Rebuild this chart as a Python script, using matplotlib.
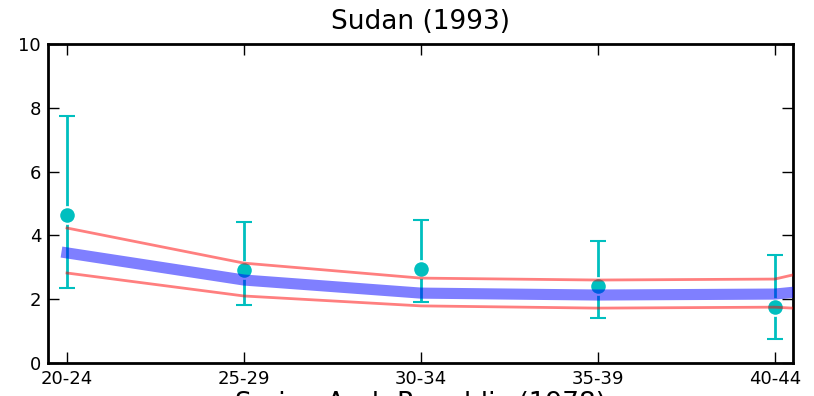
import matplotlib
matplotlib.use("Agg")
import matplotlib.pyplot as plt

# age groups (x categories)
ages = ["20-24", "25-29", "30-34", "35-39", "40-44", "45-49"]

# observed points with error bars
obs = [4.64, 2.92, 2.95, 2.41, 1.76]
obs_hi = [7.74, 4.42, 4.48, 3.82, 3.39]
obs_lo = [2.35, 1.82, 1.91, 1.41, 0.75]

# model fit and band (last value runs off the right edge)
fit = [3.45, 2.60, 2.19, 2.13, 2.16, 2.70]
band_hi = [4.23, 3.13, 2.66, 2.60, 2.63, 3.90]
band_lo = [2.82, 2.10, 1.79, 1.72, 1.75, 1.45]

fig = plt.figure(figsize=(8.14, 3.96), dpi=100)
ax = fig.add_axes([0.059, 0.0833, 0.915, 0.806])

x = list(range(len(ages)))
xo = x[:len(obs)]

ax.errorbar(xo, obs,
            yerr=[[o - l for o, l in zip(obs, obs_lo)], [h - o for o, h in zip(obs, obs_hi)]],
            fmt='o', color='c', ecolor='c', mec='w', mew=1.5, ms=12,
            elinewidth=2, capsize=6, capthick=1.5, zorder=2)
ax.plot(x, fit, color='b', alpha=0.5, lw=8, zorder=3)
ax.plot(x, band_hi, color='r', alpha=0.5, lw=2, zorder=3)
ax.plot(x, band_lo, color='r', alpha=0.5, lw=2, zorder=3)

ax.set_xlim(-0.107, 4.102)
ax.set_ylim(0, 10)
ax.set_xticks(xo)
ax.set_xticklabels(ages[:len(obs)])
ax.set_yticks([0, 2, 4, 6, 8, 10])
ax.tick_params(direction='in', length=8, width=1, top=True, right=True, labelsize=13, pad=5)
for s in ax.spines.values():
    s.set_linewidth(2)
ax.set_title("Sudan (1993)", fontsize=19, pad=11)

# title of the next panel, cut off at the bottom
fig.text(0.516, -0.038, "Syrian Arab Republic (1978)", ha='center', va='baseline', fontsize=19)

fig.savefig("out.png", dpi=100)
